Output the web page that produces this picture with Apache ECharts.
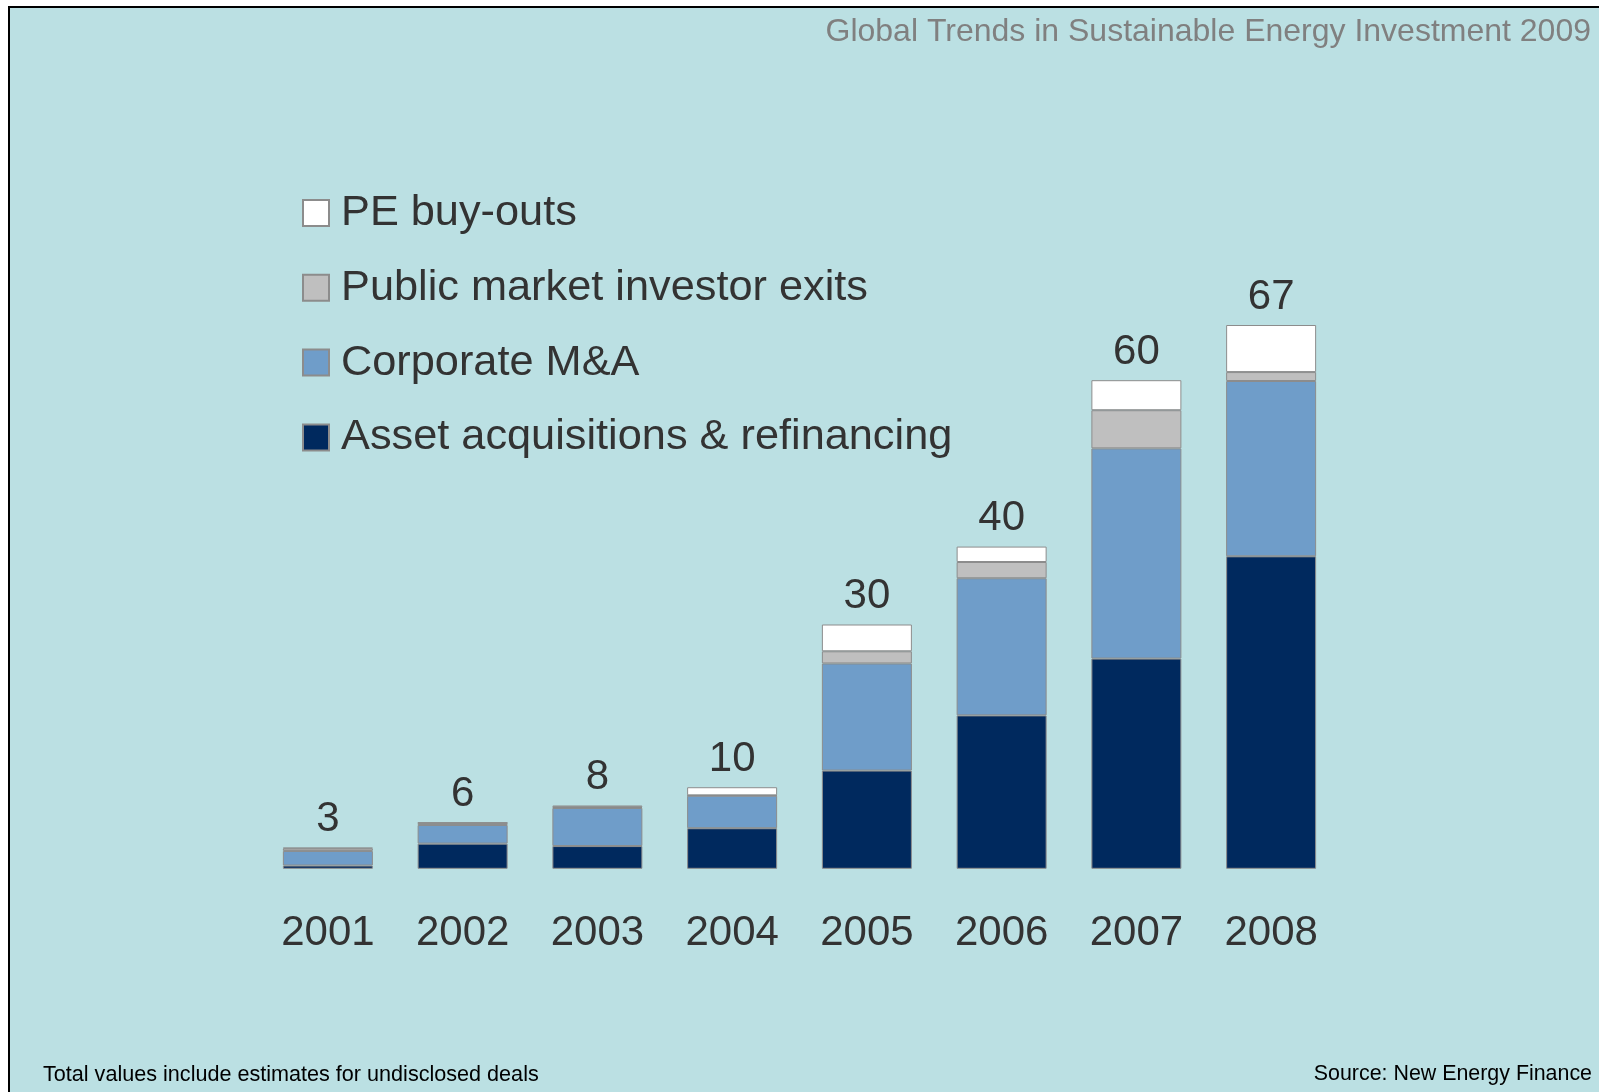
<!DOCTYPE html>
<html>
<head>
<meta charset="utf-8">
<script src="https://cdn.jsdelivr.net/npm/echarts@6/dist/echarts.min.js"></script>
<style>
  body { margin: 0; background: #fff; }
  #frame {
    position: absolute; left: 8px; top: 6px; right: 0; bottom: 0;
    background: #bbe0e3;
    border-top: 2px solid #000; border-left: 2px solid #000;
  }
  #chart { position: absolute; left: 0; top: 0; width: 1599px; height: 1092px; }
</style>
</head>
<body>
<div id="frame"></div>
<div id="chart"></div>
<script>
const years = ['2001', '2002', '2003', '2004', '2005', '2006', '2007', '2008'];
// values, $bn
const assetAcq = [0.4, 3.1, 2.8, 5.0, 12.1, 18.9, 25.9, 38.5];
const corporateMA = [1.8, 2.3, 4.7, 4.0, 13.2, 16.9, 25.9, 21.6];
const publicExits = [0.3, 0.25, 0.1, 0.05, 1.5, 2.0, 4.7, 1.1];
const peBuyouts = [0.1, 0.05, 0.2, 1.0, 3.3, 1.9, 3.7, 5.8];
const totals = [3, 6, 8, 10, 30, 40, 60, 67];

const font = 'Liberation Sans, Arial, sans-serif';
const border = { borderColor: '#8c8c8c', borderWidth: 1 };

const chart = echarts.init(document.getElementById('chart'));

function barSeries(name, data, color) {
  return {
    name: name,
    type: 'bar',
    stack: 'total',
    data: data,
    barWidth: 90,
    itemStyle: Object.assign({ color: color }, border)
  };
}

const pe = barSeries('PE buy-outs', peBuyouts, '#ffffff');
// total on top of each stack
pe.label = {
  show: true,
  position: 'top',
  distance: 7,
  fontFamily: font,
  fontSize: 42,
  color: '#333333',
  formatter: p => totals[p.dataIndex]
};

const option = {
  animation: false,
  title: [
    {
      text: 'Global Trends in Sustainable Energy Investment 2009',
      right: 3,
      top: 11,
      textStyle: { fontFamily: font, fontSize: 32, fontWeight: 'normal', color: '#808080' }
    },
    {
      text: 'Total values include estimates for undisclosed deals',
      left: 38,
      top: 1059,
      textStyle: { fontFamily: font, fontSize: 21.6, fontWeight: 'normal', color: '#000' }
    },
    {
      text: 'Source: New Energy Finance',
      right: 2,
      top: 1059,
      textStyle: { fontFamily: font, fontSize: 21.4, fontWeight: 'normal', color: '#000' }
    }
  ],
  legend: {
    orient: 'vertical',
    left: 297,
    top: 186,
    itemWidth: 26,
    itemHeight: 26,
    itemGap: 30.8,
    icon: 'rect',
    data: ['PE buy-outs', 'Public market investor exits', 'Corporate M&A', 'Asset acquisitions & refinancing'],
    textStyle: { fontFamily: font, fontSize: 43.3, lineHeight: 44, color: '#333333', padding: [0, 0, 0, 7] }
  },
  grid: {
    left: 260.5,
    width: 1078,
    top: 219.5,
    bottom: 223.2
  },
  xAxis: {
    type: 'category',
    data: years,
    axisLine: { show: false },
    axisTick: { show: false },
    axisLabel: { margin: 44, fontFamily: font, fontSize: 42, color: '#333333' }
  },
  yAxis: {
    type: 'value',
    min: 0,
    max: 80,
    show: false,
    splitLine: { show: false }
  },
  series: [
    barSeries('Asset acquisitions & refinancing', assetAcq, '#00295e'),
    barSeries('Corporate M&A', corporateMA, '#6f9dc9'),
    barSeries('Public market investor exits', publicExits, '#bfbfbf'),
    pe
  ]
};

chart.setOption(option);
</script>
</body>
</html>
